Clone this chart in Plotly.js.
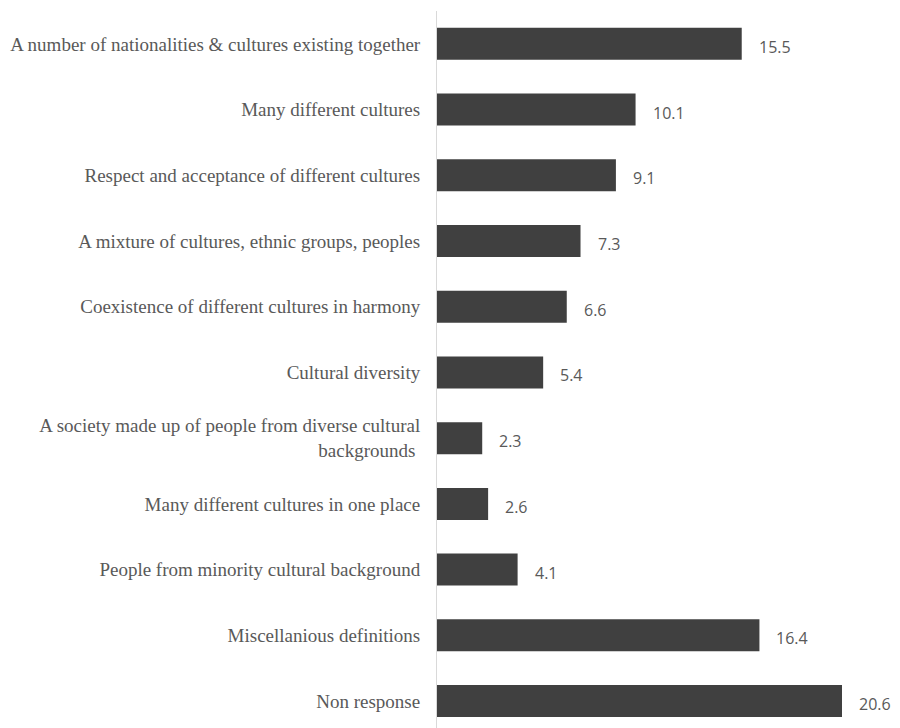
<!DOCTYPE html>
<html>
<head>
<meta charset="utf-8">
<script src="https://cdn.plot.ly/plotly-3.0.1.min.js"></script>
<style>html,body{margin:0;padding:0;background:#fff;}#chart{width:900px;height:728px;}</style>
</head>
<body>
<div id="chart"></div>
<script>
const categories = [
  "A number of nationalities & cultures existing together",
  "Many different cultures",
  "Respect and acceptance of different cultures",
  "A mixture of cultures, ethnic groups, peoples",
  "Coexistence of different cultures in harmony",
  "Cultural diversity",
  "A society made up of people from diverse cultural<br>backgrounds ",
  "Many different cultures in one place",
  "People from minority cultural background",
  "Miscellanious definitions",
  "Non response"
];
const values = [15.5, 10.1, 9.1, 7.3, 6.6, 5.4, 2.3, 2.6, 4.1, 16.4, 20.6];
const valueLabels = ["15.5", "10.1", "9.1", "7.3", "6.6", "5.4", "2.3", "2.6", "4.1", "16.4", "20.6"];

const trace = {
  type: 'bar',
  orientation: 'h',
  x: values,
  y: categories,
  marker: {color: '#404040'},
  hoverinfo: 'none'
};

const annotations = values.map((v, i) => ({
  x: v, y: categories[i], xref: 'x', yref: 'y',
  text: valueLabels[i], showarrow: false,
  xanchor: 'left', yanchor: 'middle', xshift: 15, yshift: -3,
  font: {family: 'Open Sans, sans-serif', size: 16, color: '#595959'}
}));

const layout = {
  width: 900, height: 728,
  margin: {l: 437, r: 0, t: 11, b: 0, pad: 0},
  paper_bgcolor: '#ffffff', plot_bgcolor: '#ffffff',
  showlegend: false,
  bargap: 0.513,
  xaxis: {
    range: [0, 23.55], showgrid: false, zeroline: false,
    showticklabels: false, ticks: '', showline: false, fixedrange: true
  },
  yaxis: {
    type: 'category',
    range: [10.41, -0.5],
    showgrid: false, zeroline: false,
    showline: true, linecolor: '#d9d9d9', linewidth: 1,
    ticks: '', ticklabelstandoff: 12,
    tickfont: {family: 'Liberation Serif, Times New Roman, serif', size: 19, color: '#595959'},
    fixedrange: true
  },
  annotations: annotations
};

Plotly.newPlot('chart', [trace], layout, {displayModeBar: false, staticPlot: true});
</script>
</body>
</html>
